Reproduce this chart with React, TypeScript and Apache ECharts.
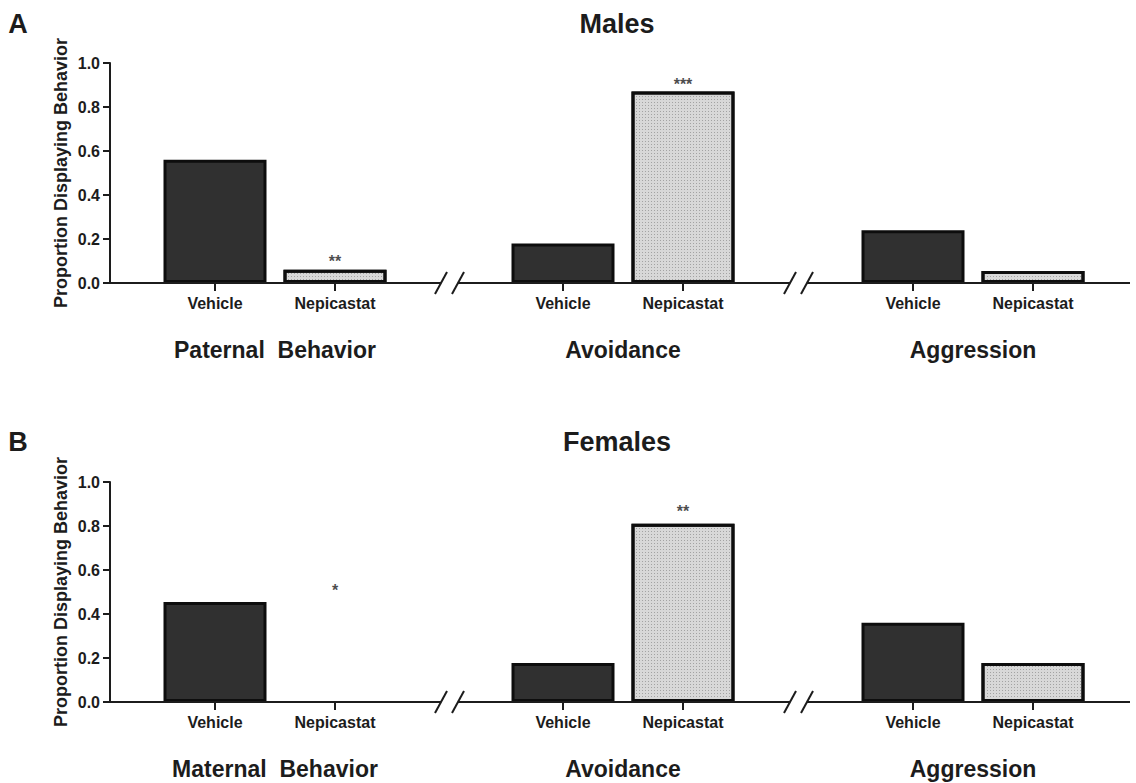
import React, { useEffect, useRef } from 'react';
import * as echarts from 'echarts';

// ---------- data ----------
const categories = ['Vehicle', 'Nepicastat'];
const maleGroups = ['Paternal  Behavior', 'Avoidance', 'Aggression'];
const femaleGroups = ['Maternal  Behavior', 'Avoidance', 'Aggression'];
const maleVehicle = [0.56, 0.18, 0.24];
const maleNepicastat = [0.06, 0.87, 0.055];
const femaleVehicle = [0.455, 0.177, 0.36];
const femaleNepicastat = [0, 0.81, 0.177];
const maleStars = ['**', '***', ''];
const maleStarY = [0.115, 0.92, null];
const femaleStars = ['*', '**', ''];
const femaleStarY = [0.525, 0.885, null];
const yTickLabels = ['0.0', '0.2', '0.4', '0.6', '0.8', '1.0'];
const panelTitles = ['Males', 'Females'];
const panelLetters = ['A', 'B'];
const yAxisTitle = 'Proportion Displaying Behavior';

// ---------- layout / style ----------
const FONT = '"Liberation Sans", Arial, Helvetica, sans-serif';
const INK = '#1c1c1c';
const DARK = '#303030';
const LIGHT = '#d8d8d8';
const PANEL_TOP = [63, 482];
const PLOT_H = 220;
const GROUP_LEFT = [155, 503, 853];
const GROUP_W = 240;
const AXIS_X = 110;
const AXIS_END = 1130;
const BREAKS = [441, 790];
const BREAK_GAP = 17;

const panels = [
  { groups: maleGroups, vehicle: maleVehicle, nep: maleNepicastat, stars: maleStars, starY: maleStarY },
  { groups: femaleGroups, vehicle: femaleVehicle, nep: femaleNepicastat, stars: femaleStars, starY: femaleStarY },
];

function buildOption() {
  const grid: any[] = [];
  const xAxis: any[] = [];
  const yAxis: any[] = [];
  const series: any[] = [];
  const graphic: any[] = [];

  panels.forEach((p, pi) => {
    p.groups.forEach((gName, gi) => {
      const idx = grid.length;
      grid.push({ left: GROUP_LEFT[gi], width: GROUP_W, top: PANEL_TOP[pi], height: PLOT_H, containLabel: false });
      xAxis.push({
        type: 'category',
        gridIndex: idx,
        data: categories,
        axisLine: { show: false },
        axisTick: { show: true, alignWithLabel: true, length: 8, lineStyle: { color: INK, width: 2 } },
        axisLabel: { margin: 12, color: INK, fontFamily: FONT, fontWeight: 'bold', fontSize: 16 },
        name: gName,
        nameLocation: 'middle',
        nameGap: 55,
        nameTextStyle: { color: INK, fontFamily: FONT, fontWeight: 'bold', fontSize: 23 },
      });
      const first = gi === 0;
      yAxis.push({
        type: 'value',
        gridIndex: idx,
        min: 0,
        max: 1,
        interval: 0.2,
        show: first,
        offset: first ? GROUP_LEFT[0] - AXIS_X : 0,
        splitLine: { show: false },
        axisLine: { show: true, lineStyle: { color: INK, width: 2 } },
        axisTick: { show: true, length: 7, lineStyle: { color: INK, width: 2 } },
        axisLabel: {
          margin: 10,
          color: INK,
          fontFamily: FONT,
          fontWeight: 'bold',
          fontSize: 16,
          formatter: (v: number) => yTickLabels[Math.round(v / 0.2)],
        },
        name: first ? yAxisTitle : '',
        nameLocation: 'middle',
        nameRotate: 90,
        nameGap: 40,
        nameTextStyle: { color: INK, fontFamily: FONT, fontWeight: 'bold', fontSize: 18 },
      });
      const nepVal = p.nep[gi];
      series.push({
        type: 'bar',
        xAxisIndex: idx,
        yAxisIndex: idx,
        barWidth: 103,
        data: [
          { value: p.vehicle[gi], itemStyle: { color: DARK, borderColor: '#0d0d0d', borderWidth: 3 } },
          {
            value: nepVal,
            itemStyle: {
              color: LIGHT,
              borderColor: '#0d0d0d',
              borderWidth: nepVal > 0 ? 3 : 0,
              decal: {
                symbol: 'rect',
                symbolSize: 1,
                color: 'rgba(120,120,120,0.55)',
                dashArrayX: [1, 2],
                dashArrayY: [1, 2],
              },
            },
          },
        ],
      });
      series.push({
        type: 'scatter',
        xAxisIndex: idx,
        yAxisIndex: idx,
        symbolSize: 0,
        silent: true,
        data: [null, p.starY[gi]],
        label: {
          show: true,
          position: 'inside',
          offset: [0, 4],
          formatter: () => p.stars[gi],
          color: INK,
          fontFamily: FONT,
          fontWeight: 'bold',
          fontSize: 16,
        },
      });
    });

    // x baseline with axis breaks
    const ay = PANEL_TOP[pi] + PLOT_H;
    const segs = [
      [AXIS_X, BREAKS[0]],
      [BREAKS[0] + BREAK_GAP, BREAKS[1]],
      [BREAKS[1] + BREAK_GAP, AXIS_END],
    ];
    segs.forEach(([x1, x2]) => {
      graphic.push({
        type: 'line',
        shape: { x1, y1: ay, x2, y2: ay },
        style: { stroke: INK, lineWidth: 2 },
        z: 10,
      });
    });
    BREAKS.forEach((bx) => {
      [bx, bx + BREAK_GAP].forEach((cx) => {
        graphic.push({
          type: 'line',
          shape: { x1: cx - 6, y1: ay + 11, x2: cx + 6, y2: ay - 11 },
          style: { stroke: INK, lineWidth: 2 },
          z: 10,
        });
      });
    });

    graphic.push({
      type: 'text',
      x: 617,
      y: pi === 0 ? 24 : 442,
      style: {
        text: panelTitles[pi],
        textAlign: 'center',
        textVerticalAlign: 'middle',
        font: `bold 27px ${FONT}`,
        fill: INK,
      },
    });
    graphic.push({
      type: 'text',
      x: 18,
      y: pi === 0 ? 24 : 442,
      style: {
        text: panelLetters[pi],
        textAlign: 'center',
        textVerticalAlign: 'middle',
        font: `bold 27px ${FONT}`,
        fill: INK,
      },
    });
  });

  return {
    animation: false,
    backgroundColor: '#ffffff',
    grid,
    xAxis,
    yAxis,
    series,
    graphic,
  };
}

export default function App() {
  const ref = useRef<HTMLDivElement | null>(null);
  useEffect(() => {
    document.body.style.margin = '0';
    if (!ref.current) return;
    const chart = echarts.init(ref.current, null, { renderer: 'svg' });
    chart.setOption(buildOption() as any);
    return () => chart.dispose();
  }, []);
  return <div ref={ref} style={{ width: 1136, height: 783 }} />;
}
